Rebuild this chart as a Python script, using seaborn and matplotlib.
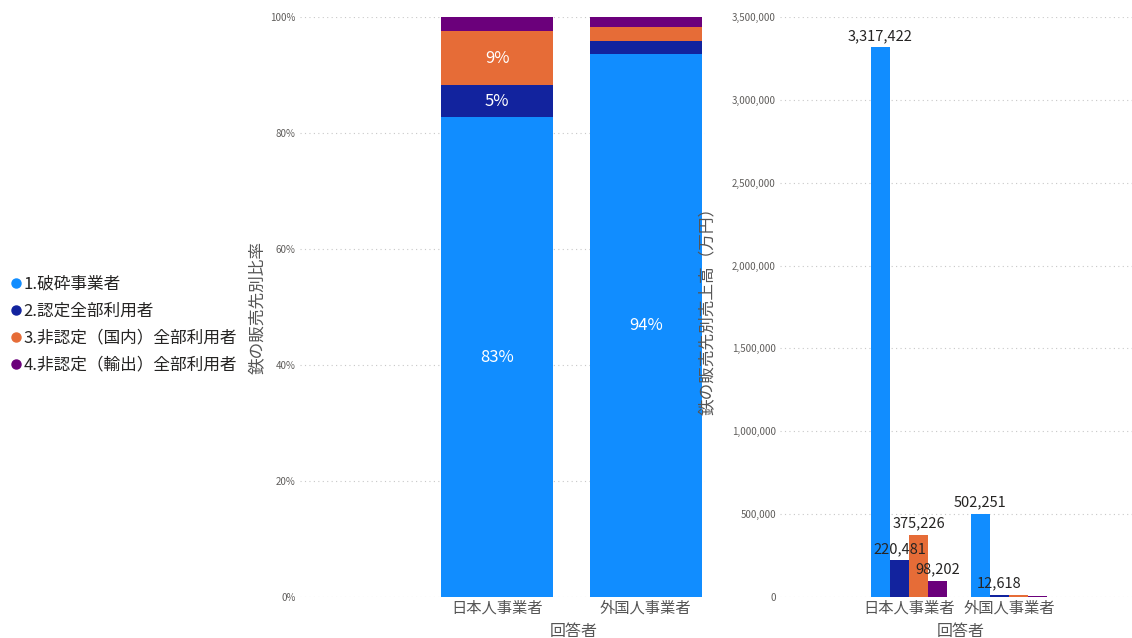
import numpy as np
import pandas as pd
import matplotlib
matplotlib.use('Agg')
import matplotlib.pyplot as plt
import seaborn as sns
from matplotlib.lines import Line2D
from matplotlib.ticker import FuncFormatter

# データ
respondents = ['日本人事業者', '外国人事業者']
buyers = ['1.破砕事業者', '2.認定全部利用者', '3.非認定（国内）全部利用者', '4.非認定（輸出）全部利用者']
sales_jp = [3317422, 220481, 375226, 98202]
sales_foreign = [502251, 12618, 13000, 9000]
colors = ['#118DFF', '#12239E', '#E66C37', '#6B007B']

sns.set_theme(style='white')
plt.rcParams['font.family'] = ['Noto Sans CJK JP', 'DejaVu Sans']

df = pd.DataFrame({
    '回答者': np.repeat(respondents, len(buyers)),
    '販売先': buyers * 2,
    '売上高': sales_jp + sales_foreign,
})
df['比率'] = df['売上高'] / df.groupby('回答者', sort=False)['売上高'].transform('sum')
df['累積'] = df.groupby('回答者', sort=False)['比率'].cumsum()

fig = plt.figure(figsize=(11.32, 6.38), dpi=100)
ax1 = fig.add_axes([300 / 1132, 41 / 638, 405 / 1132, 580 / 638])
ax2 = fig.add_axes([780 / 1132, 41 / 638, 352 / 1132, 580 / 638])

grid_kw = dict(color='#C8C8C8', linestyle=(0, (1, 3)), linewidth=0.8)
tick_color = '#605E5C'
label_color = '#555555'

# 左：100%積み上げ
for i in reversed(range(len(buyers))):
    sub = df[df['販売先'] == buyers[i]]
    sns.barplot(data=sub, x='回答者', y='累積', order=respondents, color=colors[i],
                width=0.757, saturation=1, ax=ax1, zorder=3, errorbar=None, linewidth=0)

for _, r in df[df['回答者'] == respondents[0]].iterrows():
    if r['比率'] >= 0.04:
        ax1.text(0, r['累積'] - r['比率'] / 2, f"{r['比率']:.0%}", ha='center', va='center',
                 color='white', fontsize=12, zorder=5)
for _, r in df[df['回答者'] == respondents[1]].iterrows():
    if r['比率'] >= 0.5:
        ax1.text(1, r['累積'] - r['比率'] / 2, f"{r['比率']:.0%}", ha='center', va='center',
                 color='white', fontsize=12, zorder=5)

ax1.set_ylim(0, 1)
ax1.set_xlim(-1.33, 1.4)
ax1.set_yticks(np.arange(0, 1.01, 0.2))
ax1.yaxis.set_major_formatter(FuncFormatter(lambda v, p: f'{v:.0%}'))
ax1.set_ylabel('鉄の販売先別比率', fontsize=12, color=label_color)
ax1.set_xlabel('回答者', fontsize=11.5, color=label_color)
ax1.xaxis.set_label_coords((574 - 300) / 405, -0.045)
ax1.yaxis.set_label_coords(-0.085, 0.5)

# 右：集合縦棒
sns.barplot(data=df, x='回答者', y='売上高', hue='販売先', order=respondents, hue_order=buyers,
            palette=colors, width=0.76, saturation=1, ax=ax2, zorder=3, errorbar=None,
            legend=False, linewidth=0)
for k, cont in enumerate(ax2.containers):
    labels = [f'{sales_jp[k]:,}', f'{sales_foreign[k]:,}' if k < 2 else '']
    ax2.bar_label(cont, labels=labels, padding=3, fontsize=10.5, color='#252423', zorder=5)

ax2.set_ylim(0, 3500000)
ax2.set_xlim(-1.29, 2.23)
ax2.set_yticks(np.arange(0, 3500001, 500000))
ax2.yaxis.set_major_formatter(FuncFormatter(lambda v, p: f'{int(v):,}'))
ax2.set_ylabel('鉄の販売先別売上高（万円）', fontsize=12, color=label_color)
ax2.set_xlabel('回答者', fontsize=11.5, color=label_color)
ax2.xaxis.set_label_coords((961 - 780) / 352, -0.045)
ax2.yaxis.set_label_coords(-0.18, 0.5)

for ax in (ax1, ax2):
    ax.grid(axis='y', zorder=0, **grid_kw)
    ax.set_axisbelow(True)
    sns.despine(ax=ax, left=True, bottom=True)
    ax.tick_params(axis='y', labelsize=7, colors=tick_color, length=0, pad=3)
    ax.tick_params(axis='x', labelsize=11, colors=label_color, length=0, pad=2)

# 凡例
handles = [Line2D([0], [0], marker='o', linestyle='', markersize=6.5, markerfacecolor=c,
                  markeredgecolor=c) for c in colors]
fig.legend(handles, buyers, loc='center left', bbox_to_anchor=(-0.006, 0.491), frameon=False,
           fontsize=12, handletextpad=0.0, labelspacing=0.6, labelcolor='#252423',
           handlelength=0.9)

fig.savefig('out.png', dpi=100)
